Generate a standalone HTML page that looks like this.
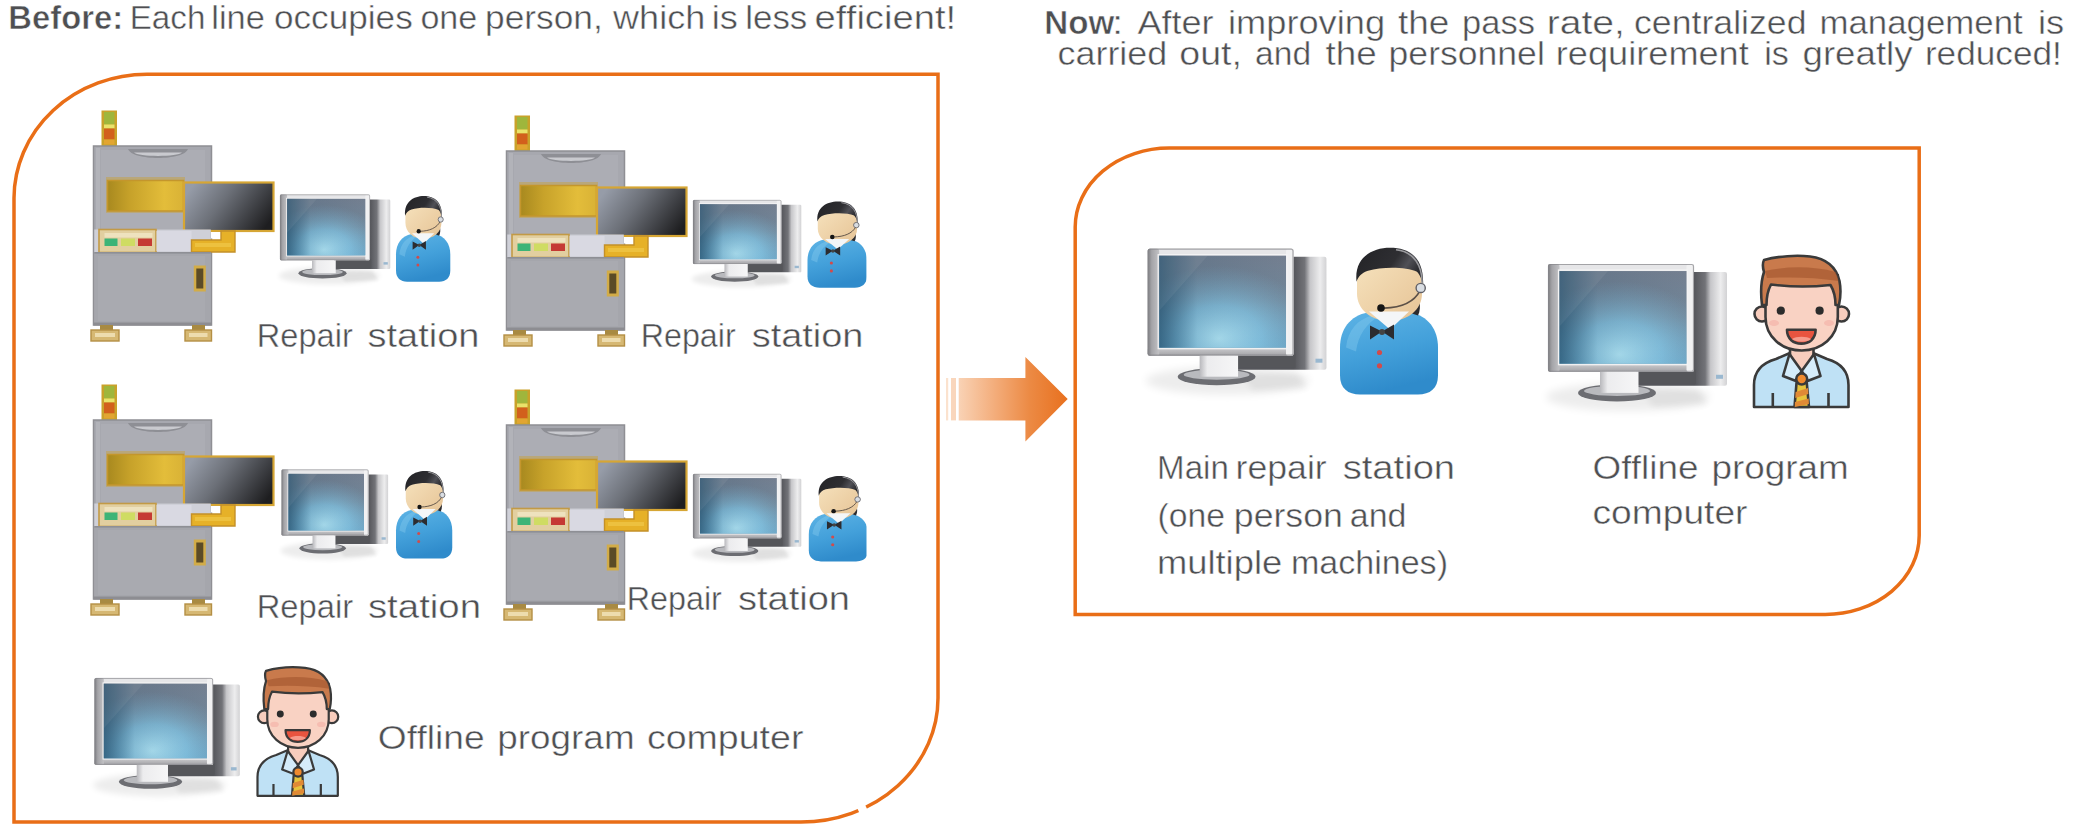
<!DOCTYPE html>
<html><head><meta charset="utf-8"><title>Before / Now</title>
<style>
html,body{margin:0;padding:0;background:#fff;}
body{width:2073px;height:829px;overflow:hidden;position:relative;}
svg{position:absolute;left:0;top:0;display:block;}
text{font-family:"Liberation Sans",sans-serif;fill:#4e4f52;stroke:#fff;stroke-width:0.45px;}
text[font-weight]{stroke-width:0.55px;}
</style></head><body>
<svg width="2073" height="829" viewBox="0 0 2073 829">
<defs>
<filter id="blur4" x="-30%" y="-60%" width="160%" height="220%"><feGaussianBlur stdDeviation="4"/></filter>
<filter id="blur3" x="-30%" y="-60%" width="160%" height="220%"><feGaussianBlur stdDeviation="3"/></filter>
<linearGradient id="arrowG" x1="958" y1="0" x2="1068" y2="0" gradientUnits="userSpaceOnUse">
<stop offset="0" stop-color="#f9d3b6"/><stop offset="0.35" stop-color="#f3ab78"/><stop offset="0.65" stop-color="#ec8a44"/><stop offset="1" stop-color="#e8701e"/>
</linearGradient>
<linearGradient id="goldG" x1="0" y1="0" x2="1" y2="0">
<stop offset="0" stop-color="#a8891f"/><stop offset="0.3" stop-color="#c7a22a"/><stop offset="0.75" stop-color="#e3bd3a"/><stop offset="1" stop-color="#d9b236"/>
</linearGradient>
<linearGradient id="darkG" x1="0" y1="0.3" x2="1" y2="0.7">
<stop offset="0" stop-color="#969ca8"/><stop offset="0.4" stop-color="#6c7078"/><stop offset="1" stop-color="#1e1e20"/>
</linearGradient>
<linearGradient id="towerG" x1="88" y1="0" x2="179" y2="0" gradientUnits="userSpaceOnUse">
<stop offset="0" stop-color="#55565b"/><stop offset="0.64" stop-color="#55565b"/><stop offset="0.76" stop-color="#727378"/><stop offset="0.82" stop-color="#c6c6c9"/><stop offset="0.93" stop-color="#ededee"/><stop offset="1" stop-color="#d2d2d4"/>
</linearGradient>
<linearGradient id="bezelG" x1="0" y1="0" x2="1" y2="0">
<stop offset="0" stop-color="#9c9ca0"/><stop offset="0.06" stop-color="#c2c2c5"/><stop offset="0.5" stop-color="#d6d6d8"/><stop offset="1" stop-color="#ebebec"/>
</linearGradient>
<linearGradient id="scrG" x1="0" y1="0" x2="0" y2="1">
<stop offset="0" stop-color="#747f90"/><stop offset="0.5" stop-color="#6f8699"/><stop offset="1" stop-color="#619cbd"/>
</linearGradient>
<radialGradient id="scrGlow" cx="0.47" cy="0.86" r="0.75" fx="0.47" fy="0.9">
<stop offset="0" stop-color="#b4e8f8" stop-opacity="1"/><stop offset="0.45" stop-color="#8cccea" stop-opacity="0.75"/><stop offset="1" stop-color="#80acc8" stop-opacity="0"/>
</radialGradient>
<linearGradient id="scrLeft" x1="0" y1="0" x2="1" y2="0">
<stop offset="0" stop-color="#1d4a68" stop-opacity="0.7"/><stop offset="0.3" stop-color="#1d4a68" stop-opacity="0.15"/><stop offset="1" stop-color="#1d4a68" stop-opacity="0"/>
</linearGradient>
<linearGradient id="neckG" x1="0" y1="0" x2="1" y2="0">
<stop offset="0" stop-color="#b8b8bc"/><stop offset="0.2" stop-color="#ececee"/><stop offset="1" stop-color="#f6f6f7"/>
</linearGradient>
<linearGradient id="blueG" x1="0" y1="0" x2="0.3" y2="1">
<stop offset="0" stop-color="#5db3e5"/><stop offset="0.55" stop-color="#43a0da"/><stop offset="1" stop-color="#2f8bcb"/>
</linearGradient>
<linearGradient id="skinG" x1="0" y1="0" x2="1" y2="1">
<stop offset="0" stop-color="#f6e2bd"/><stop offset="1" stop-color="#e6c395"/>
</linearGradient>
<linearGradient id="hairG" x1="0" y1="0" x2="1" y2="0.4">
<stop offset="0" stop-color="#232326"/><stop offset="0.6" stop-color="#2e2e32"/><stop offset="0.8" stop-color="#505056"/><stop offset="1" stop-color="#2a2a2e"/>
</linearGradient>
<linearGradient id="bezL" x1="0" y1="0" x2="1" y2="0"><stop offset="0" stop-color="#7c7c80"/><stop offset="0.35" stop-color="#a4a4a8"/><stop offset="1" stop-color="#c2c2c5"/></linearGradient>
<linearGradient id="bezB" x1="0" y1="0" x2="0" y2="1"><stop offset="0" stop-color="#cdcdd0"/><stop offset="1" stop-color="#a2a2a6"/></linearGradient>
<clipPath id="clipR"><rect x="0" y="0" width="866.5" height="829"/></clipPath>

<g id="mach">
 <!-- light tower -->
 <rect x="101.5" y="110.5" width="15.5" height="35.5" fill="#c9a22a"/>
 <rect x="104" y="112" width="10.5" height="12.5" fill="#9fb63c"/>
 <rect x="104" y="124.5" width="10.5" height="4" fill="#e9e36a"/>
 <rect x="104" y="128.5" width="10.5" height="11" fill="#d2601c"/>
 <rect x="104" y="139.5" width="10.5" height="5" fill="#e2a531"/>
 <!-- cabinet -->
 <rect x="93.5" y="146" width="118" height="179" fill="#a7a8af" stroke="#8f8f94" stroke-width="1.5"/>
 <rect x="101" y="150" width="104" height="79" fill="#acadb4"/>
 <rect x="96" y="148" width="4" height="175" fill="#b9bac0" opacity="0.6"/>
 <!-- top handle -->
 <path d="M128,149 L188,149 C184,161 132,161 128,149 Z" fill="#8e8f95"/>
 <path d="M134,152.5 L182,152.5 C178,157 138,157 134,152.5 Z" fill="#c9cacf"/>
 <!-- golden window -->
 <rect x="106" y="177" width="79" height="36" fill="#b9a77a"/>
 <rect x="107.5" y="180.5" width="76" height="30.5" fill="url(#goldG)" stroke="#c4962c" stroke-width="1.5"/>
 <!-- dark screen -->
 <rect x="184" y="182.5" width="89.5" height="48.5" fill="url(#darkG)" stroke="#d6a634" stroke-width="2.2"/>
 <!-- control strip -->
 <rect x="94.3" y="229.5" width="116.5" height="23" fill="#cfd0d8"/>
 <rect x="99" y="229.5" width="57" height="23" fill="#e2cfa0" stroke="#c29a46" stroke-width="1.6"/>
 <rect x="104.5" y="238.5" width="13" height="7.5" fill="#3cb477"/>
 <rect x="121" y="238.5" width="14" height="7.5" fill="#cfdc63"/>
 <rect x="138" y="238.5" width="14" height="7.5" fill="#c53a34"/>
 <rect x="104.5" y="233" width="48" height="4.5" fill="#f1e6c6" opacity="0.8"/>
 <rect x="156.5" y="231" width="35" height="20" fill="#d9d9e2"/>
 <!-- gold keyboard -->
 <rect x="211" y="232" width="10" height="6.5" fill="#ffffff"/>
 <path d="M221,231 L235,231 L235,252 L191.5,252 L191.5,240 L221,240 Z" fill="#e6b128" stroke="#c49028" stroke-width="1.4"/>
 <rect x="195" y="243" width="36" height="4" fill="#f0c848" opacity="0.7"/>
 <!-- lower door -->
 <rect x="94.3" y="252.5" width="116.5" height="72" fill="#a5a6ac"/>
 <rect x="98" y="256" width="107" height="65" fill="#a9aab0"/>
 <rect x="94.3" y="252" width="116.5" height="1.6" fill="#8e8f95"/>
 <rect x="193.8" y="265.5" width="12" height="26" fill="#d2ac48"/>
 <rect x="196.3" y="268.5" width="7" height="20" fill="#5b4b26"/>
 <rect x="93.5" y="322.5" width="118" height="3" fill="#8d8d92"/>
 <!-- feet -->
 <rect x="100" y="325" width="13" height="6" fill="#a88a42"/>
 <rect x="91" y="330" width="28" height="11" fill="#d6b873" stroke="#b48f45" stroke-width="1.4"/>
 <rect x="95" y="333" width="20" height="4" fill="#eddcae"/>
 <rect x="192" y="325" width="13" height="6" fill="#a88a42"/>
 <rect x="185" y="330" width="26.5" height="11" fill="#d6b873" stroke="#b48f45" stroke-width="1.4"/>
 <rect x="189" y="333" width="18.5" height="4" fill="#eddcae"/>
</g>

<g id="mon">
 <ellipse cx="80" cy="132" rx="82" ry="14" fill="#000" opacity="0.07" filter="url(#blur4)"/>
 <path d="M95,126 L150,124 L160,140 L105,142 Z" fill="#000" opacity="0.05" filter="url(#blur3)"/>
 <!-- tower -->
 <rect x="88" y="8" width="91" height="113" rx="2" fill="url(#towerG)"/>
 <rect x="88" y="105" width="60" height="14" fill="#55565a"/>
 <rect x="168" y="110" width="7" height="4" fill="#9ab8d0"/>
 <!-- bezel -->
 <rect x="0" y="0" width="146" height="107" rx="2" fill="#dadadc"/>
 <rect x="0" y="0" width="146" height="7" rx="2" fill="#e6e6e8"/>
 <rect x="0" y="99" width="146" height="8" rx="2" fill="url(#bezB)"/>
 <rect x="0" y="0" width="11.5" height="107" rx="2" fill="url(#bezL)"/>
 <rect x="138.5" y="0" width="7.5" height="107" rx="2" fill="#f1f1f2"/>
 <rect x="0.5" y="0.5" width="145" height="106" rx="2" fill="none" stroke="#86868a" stroke-width="1.2" opacity="0.7"/>
 <rect x="10.5" y="6" width="129" height="94" fill="none" stroke="#f4f4f5" stroke-width="1.2"/>
 <!-- screen -->
 <rect x="11.5" y="7" width="127" height="92" fill="url(#scrG)"/>
 <rect x="11.5" y="7" width="127" height="92" fill="url(#scrGlow)"/>
 <rect x="11.5" y="7" width="127" height="92" fill="url(#scrLeft)"/>
 <path d="M11.5,7 L60,7 L11.5,62 Z" fill="#ffffff" opacity="0.06"/>
 <!-- neck + base -->
 <ellipse cx="69" cy="128" rx="39" ry="8.5" fill="#6c6d72"/>
 <ellipse cx="69" cy="126" rx="33" ry="5" fill="#b9babe"/>
 <rect x="52" y="107" width="38.5" height="21" fill="url(#neckG)"/>
</g>

<g id="bperson">
 <!-- body -->
 <path d="M0,128 L0,100 C0,82 10,68 28,65 L70,65 C88,68 98,82 98,100 L98,128 C98,141 90,147 78,147 L20,147 C8,147 0,141 0,128 Z" fill="url(#blueG)"/>
 <path d="M6,100 C8,82 18,72 32,68 L40,68 C26,76 18,88 16,104 Z" fill="#8fd0f2" opacity="0.35"/>
 <!-- hair back -->
 <path d="M70,40 C80,46 82,60 78,68 L72,66 Z" fill="#2b2b2e"/>
 <!-- face -->
 <path d="M17,32 C17,18 30,12 49.5,12 C69,12 82,18 82,32 L82,46 C82,62 68,73.5 49.5,73.5 C31,73.5 17,62 17,46 Z" fill="url(#skinG)"/>
 <!-- hair -->
 <path d="M16.5,34 C14,10 32,0 50,0 C70,0 85,10 83,40 C82,32 80,27 77,24 C66,19 42,19 28,23 C22,25 18,29 16.5,34 Z" fill="url(#hairG)"/>
 <!-- collar + bow tie -->
 <path d="M29,64 L69,64 L50,82 Z" fill="#f4f6f8"/>
 <path d="M30,78 L42,84 L30,92 Z M54,77 L42,84 L54,92 Z" fill="#2c2c30"/>
 <circle cx="42" cy="84.5" r="3" fill="#444"/>
 <!-- buttons -->
 <circle cx="39.5" cy="105" r="2.6" fill="#d24b4b"/>
 <circle cx="39.5" cy="118.4" r="2.6" fill="#d24b4b"/>
 <!-- headset -->
 <path d="M56,2 C74,4 83,18 82,38" fill="none" stroke="#9a9a9e" stroke-width="1.6"/>
 <path d="M80,43 C74,55 60,60 44,60.5" fill="none" stroke="#5c5047" stroke-width="1.6"/>
 <circle cx="80.7" cy="40.3" r="4.6" fill="#d9dde2" stroke="#606066" stroke-width="1.4"/>
 <circle cx="41" cy="60.5" r="3.8" fill="#151515"/>
</g>

<g id="cartoon" stroke="#3a3a3a" stroke-width="2.6" stroke-linejoin="round">
 <!-- body -->
 <path d="M2,152 L2,130 C2,116 10,108 24,104 L38,98 L61,98 L75,104 C89,108 96.5,116 96.5,130 L96.5,152 Z" fill="#bfe1f5"/>
 <path d="M20.8,138 L20.8,152 M76.5,138 L76.5,152" fill="none"/>
 <!-- neck -->
 <path d="M38,90 L38,106 L49.7,116 L61.5,106 L61.5,90 Z" fill="#f8cdbd"/>
 <!-- collar -->
 <path d="M37.5,99 L31,121 L44,126 L49.7,116 Z" fill="#d5ecfa"/>
 <path d="M62,99 L68.5,121 L55.5,126 L49.7,116 Z" fill="#d5ecfa"/>
 <!-- tie -->
 <path d="M44.5,128 L54.8,128 L57,152 L42.5,152 Z" fill="#e7c43c"/>
 <path d="M43.6,137 L56,133 L56.4,139 L43.3,143 Z M43,147 L56.7,143.5 L56.9,149 L42.8,152 Z" fill="#e08a36" stroke="none"/>
 <circle cx="49.7" cy="124" r="5.5" fill="#f08a2e"/>
 <!-- ears -->
 <circle cx="10" cy="59" r="7.5" fill="#f8cdbd"/>
 <circle cx="89.5" cy="59" r="7.5" fill="#f8cdbd"/>
 <!-- face -->
 <path d="M13.5,20 L13.5,62 C13.5,82 30,95.5 49.7,95.5 C69.4,95.5 85.8,82 85.8,62 L85.8,20 Z" fill="#f9d2c3"/>
 <!-- hair -->
 <path d="M10,50 C8.5,38 9,26 12,17 C10.5,12 10.5,8 12,5 C26,1 45,0 58,1.5 C74,3.5 84,11 87.5,26 C89,34 88.5,43 87,50 L83.5,50 C83.5,42 81.5,35 78.5,30 C60,32 38,32 19,29.5 C16,35 14.5,42 14.5,50 Z" fill="#c97a4c"/>
 <path d="M13,16 C35,11 62,11 83.5,17 C85,20 86,23 86.5,26 C62,22 36,22 15,23 Z" fill="#a65a32" stroke="none" opacity="0.7"/>
 <!-- eyes -->
 <circle cx="28.8" cy="55.7" r="4.1" fill="#2c2c2c" stroke="none"/>
 <circle cx="67.6" cy="55.7" r="4.1" fill="#2c2c2c" stroke="none"/>
 <!-- cheeks -->
 <ellipse cx="22" cy="68" rx="5" ry="3" fill="#f4a8a0" stroke="none" opacity="0.5"/>
 <ellipse cx="77" cy="68" rx="5" ry="3" fill="#f4a8a0" stroke="none" opacity="0.5"/>
 <!-- mouth -->
 <path d="M35,74.8 L63.6,74.8 C63.6,84 57,88.6 49.3,88.6 C41.6,88.6 35,84 35,74.8 Z" fill="#e8543f"/>
 <path d="M40,84 C44,81 55,81 59,84 C56,87.5 44,87.5 40,84 Z" fill="#f59a8a" stroke="none"/>
</g>

</defs>
<!-- boxes -->
<path d="M14,822 L14,198 A133,124 0 0 1 147,74.3 L938,74.3 L938,698 A137,124 0 0 1 801,822 Z" fill="none" stroke="#e96e17" stroke-width="3.5"/>
<rect x="859" y="806" width="8.5" height="9" fill="#fff" transform="rotate(-25 863 811)"/>
<path d="M1075.2,614.5 L1075.2,227 A94,79 0 0 1 1169.2,148 L1919.2,148 L1919.2,535.5 A94,79 0 0 1 1825.2,614.5 Z" fill="none" stroke="#e96e17" stroke-width="3.5"/>
<!-- arrow -->
<rect x="946" y="378" width="2.2" height="42.4" fill="#fbe2ce"/>
<rect x="951" y="378" width="5" height="42.4" fill="#f9d6bc"/>
<path d="M958.7,378 L1025.4,378 L1025.4,357 L1067.7,399 L1025.4,441.5 L1025.4,420.4 L958.7,420.4 Z" fill="url(#arrowG)"/>
<!-- icons -->
<use href="#mach" transform="translate(0,0)"/>
<use href="#mach" transform="translate(413,5)"/>
<use href="#mach" transform="translate(0,274)"/>
<use href="#mach" transform="translate(413,279)"/>
<use href="#mon" transform="translate(280,194.5) scale(0.616,0.615)"/>
<use href="#mon" transform="translate(693,200) scale(0.605,0.598)"/>
<use href="#mon" transform="translate(281.6,469.5) scale(0.595,0.616)"/>
<use href="#mon" transform="translate(693,473.9) scale(0.605,0.602)"/>
<use href="#mon" transform="translate(94.5,678) scale(0.812,0.811)"/>
<use href="#mon" transform="translate(1147.7,248.7) scale(0.9986,1.0)"/>
<use href="#mon" transform="translate(1548,264) scale(1.0,1.007)"/>
<g><use href="#bperson" transform="translate(396,196) scale(0.554,0.583)"/></g>
<g clip-path="url(#clipR)"><use href="#bperson" transform="translate(807.5,201.5) scale(0.605,0.586)"/></g>
<g><use href="#bperson" transform="translate(396,471) scale(0.574,0.595)"/></g>
<g clip-path="url(#clipR)"><use href="#bperson" transform="translate(808.8,476) scale(0.605,0.581)"/></g>
<g><use href="#bperson" transform="translate(1340,247.7) scale(1.0,0.998)"/></g>
<use href="#cartoon" transform="translate(1752,255)"/>
<use href="#cartoon" transform="translate(255.8,666.6) scale(0.85)"/>
<!-- text -->
<text x="8.3" y="29" font-size="33.5" font-weight="bold" textLength="114.8" lengthAdjust="spacingAndGlyphs">Before:</text>
<text x="129.7" y="29" font-size="33.5" textLength="75.7" lengthAdjust="spacingAndGlyphs">Each</text>
<text x="211.3" y="29" font-size="33.5" textLength="53.6" lengthAdjust="spacingAndGlyphs">line</text>
<text x="274.0" y="29" font-size="33.5" textLength="138.7" lengthAdjust="spacingAndGlyphs">occupies</text>
<text x="420.4" y="29" font-size="33.5" textLength="56.9" lengthAdjust="spacingAndGlyphs">one</text>
<text x="485.1" y="29" font-size="33.5" textLength="117.7" lengthAdjust="spacingAndGlyphs">person,</text>
<text x="613.1" y="29" font-size="33.5" textLength="92.1" lengthAdjust="spacingAndGlyphs">which</text>
<text x="711.7" y="29" font-size="33.5" textLength="26.1" lengthAdjust="spacingAndGlyphs">is</text>
<text x="745.3" y="29" font-size="33.5" textLength="62.0" lengthAdjust="spacingAndGlyphs">less</text>
<text x="814.6" y="29" font-size="33.5" textLength="141.6" lengthAdjust="spacingAndGlyphs">efficient!</text>
<text x="1044.3" y="34" font-size="33.5" font-weight="bold" textLength="70.0" lengthAdjust="spacingAndGlyphs">Now</text>
<text x="1112.1" y="34" font-size="33.5" textLength="11.2" lengthAdjust="spacingAndGlyphs">:</text>
<text x="1137.4" y="34" font-size="33.5" textLength="76.2" lengthAdjust="spacingAndGlyphs">After</text>
<text x="1228.0" y="34" font-size="33.5" textLength="157.1" lengthAdjust="spacingAndGlyphs">improving</text>
<text x="1397.9" y="34" font-size="33.5" textLength="51.3" lengthAdjust="spacingAndGlyphs">the</text>
<text x="1462.1" y="34" font-size="33.5" textLength="72.8" lengthAdjust="spacingAndGlyphs">pass</text>
<text x="1546.7" y="34" font-size="33.5" textLength="78.3" lengthAdjust="spacingAndGlyphs">rate,</text>
<text x="1634.0" y="34" font-size="33.5" textLength="172.5" lengthAdjust="spacingAndGlyphs">centralized</text>
<text x="1819.5" y="34" font-size="33.5" textLength="203.2" lengthAdjust="spacingAndGlyphs">management</text>
<text x="2037.9" y="34" font-size="33.5" textLength="26.2" lengthAdjust="spacingAndGlyphs">is</text>
<text x="1057.5" y="65" font-size="33.5" textLength="109.8" lengthAdjust="spacingAndGlyphs">carried</text>
<text x="1179.3" y="65" font-size="33.5" textLength="62.7" lengthAdjust="spacingAndGlyphs">out,</text>
<text x="1255.1" y="65" font-size="33.5" textLength="56.0" lengthAdjust="spacingAndGlyphs">and</text>
<text x="1325.5" y="65" font-size="33.5" textLength="51.2" lengthAdjust="spacingAndGlyphs">the</text>
<text x="1388.6" y="65" font-size="33.5" textLength="156.2" lengthAdjust="spacingAndGlyphs">personnel</text>
<text x="1555.8" y="65" font-size="33.5" textLength="193.0" lengthAdjust="spacingAndGlyphs">requirement</text>
<text x="1764.3" y="65" font-size="33.5" textLength="24.6" lengthAdjust="spacingAndGlyphs">is</text>
<text x="1802.5" y="65" font-size="33.5" textLength="110.1" lengthAdjust="spacingAndGlyphs">greatly</text>
<text x="1924.9" y="65" font-size="33.5" textLength="136.9" lengthAdjust="spacingAndGlyphs">reduced!</text>
<text x="256.8" y="347" font-size="34" textLength="96.0" lengthAdjust="spacingAndGlyphs">Repair</text>
<text x="367.5" y="347" font-size="34" textLength="112.0" lengthAdjust="spacingAndGlyphs">station</text>
<text x="640.7" y="347" font-size="34" textLength="95.0" lengthAdjust="spacingAndGlyphs">Repair</text>
<text x="751.7" y="347" font-size="34" textLength="111.8" lengthAdjust="spacingAndGlyphs">station</text>
<text x="256.7" y="618" font-size="34" textLength="96.5" lengthAdjust="spacingAndGlyphs">Repair</text>
<text x="367.9" y="618" font-size="34" textLength="113.2" lengthAdjust="spacingAndGlyphs">station</text>
<text x="626.7" y="610" font-size="34" textLength="95.2" lengthAdjust="spacingAndGlyphs">Repair</text>
<text x="737.9" y="610" font-size="34" textLength="112.1" lengthAdjust="spacingAndGlyphs">station</text>
<text x="377.8" y="749" font-size="34" textLength="106.8" lengthAdjust="spacingAndGlyphs">Offline</text>
<text x="497.3" y="749" font-size="34" textLength="137.3" lengthAdjust="spacingAndGlyphs">program</text>
<text x="646.9" y="749" font-size="34" textLength="156.5" lengthAdjust="spacingAndGlyphs">computer</text>
<text x="1157.1" y="479" font-size="34" textLength="71.7" lengthAdjust="spacingAndGlyphs">Main</text>
<text x="1235.6" y="479" font-size="34" textLength="91.1" lengthAdjust="spacingAndGlyphs">repair</text>
<text x="1342.7" y="479" font-size="34" textLength="112.4" lengthAdjust="spacingAndGlyphs">station</text>
<text x="1157.5" y="527" font-size="34" textLength="67.5" lengthAdjust="spacingAndGlyphs">(one</text>
<text x="1233.8" y="527" font-size="34" textLength="109.1" lengthAdjust="spacingAndGlyphs">person</text>
<text x="1349.8" y="527" font-size="34" textLength="56.7" lengthAdjust="spacingAndGlyphs">and</text>
<text x="1156.9" y="574" font-size="34" textLength="125.3" lengthAdjust="spacingAndGlyphs">multiple</text>
<text x="1290.9" y="574" font-size="34" textLength="157.1" lengthAdjust="spacingAndGlyphs">machines)</text>
<text x="1592.6" y="479" font-size="34" textLength="105.9" lengthAdjust="spacingAndGlyphs">Offline</text>
<text x="1711.4" y="479" font-size="34" textLength="137.2" lengthAdjust="spacingAndGlyphs">program</text>
<text x="1592.5" y="524" font-size="34" textLength="155.0" lengthAdjust="spacingAndGlyphs">computer</text>

</svg>
</body></html>
